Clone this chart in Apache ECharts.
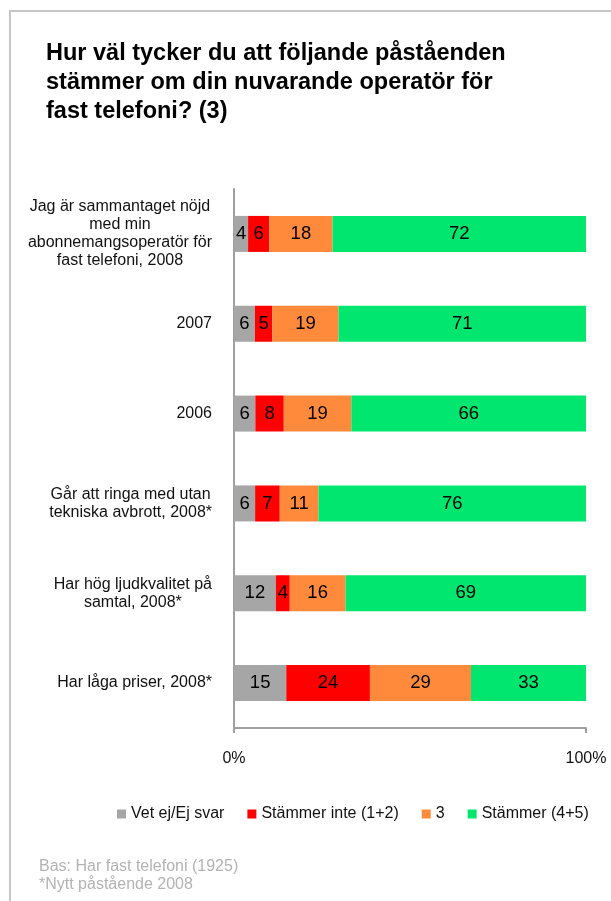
<!DOCTYPE html>
<html>
<head>
<meta charset="utf-8">
<script src="https://cdn.jsdelivr.net/npm/echarts@6/dist/echarts.min.js"></script>
<style>
  html, body { margin: 0; padding: 0; background: #fff; }
  #frame {
    position: absolute; left: 9px; top: 10px; width: 700px; height: 1000px;
    border-left: 2.5px solid #c6c6c6; border-top: 2.5px solid #c6c6c6;
  }
  #chart { position: absolute; left: 0; top: 0; width: 611px; height: 901px; }
</style>
</head>
<body>
<div id="frame"></div>
<div id="chart"></div>
<script>
// Statements (top to bottom)
const categories = [
  'Jag är sammantaget nöjd\nmed min\nabonnemangsoperatör för\nfast telefoni, 2008',
  '2007',
  '2006',
  'Går att ringa med utan\ntekniska avbrott, 2008*',
  'Har hög ljudkvalitet på\nsamtal, 2008*',
  'Har låga priser, 2008*'
];
// Answer shares per statement (%)
const vetEj = [4, 6, 6, 6, 12, 15];
const stammerInte = [6, 5, 8, 7, 4, 24];
const tre = [18, 19, 19, 11, 16, 29];
const stammer = [72, 71, 66, 76, 69, 33];

const seriesNames = ['Vet ej/Ej svar', 'Stämmer inte (1+2)', '3', 'Stämmer (4+5)'];
const seriesColors = ['#a6a6a6', '#ff0000', '#ff8a3c', '#00e66e'];
const xTicks = [0, 100];

const FONT = "'Liberation Sans', Arial, sans-serif";
const raw = [vetEj, stammerInte, tre, stammer];
// each bar is scaled to the total of its row (100% stacked)
const totals = categories.map((_, i) => raw.reduce((s, arr) => s + arr[i], 0));

const series = raw.map((arr, si) => ({
  name: seriesNames[si],
  type: 'bar',
  stack: 'all',
  barWidth: 36,
  itemStyle: { color: seriesColors[si] },
  label: {
    show: true,
    position: 'inside',
    color: '#000',
    fontFamily: FONT,
    fontSize: 18.5,
    formatter: p => String(arr[p.dataIndex])
  },
  emphasis: { disabled: true },
  data: arr.map((v, i) => v / totals[i] * 100)
}));

const chart = echarts.init(document.getElementById('chart'), null, { renderer: 'canvas' });
chart.setOption({
  animation: false,
  textStyle: { fontFamily: FONT },
  title: [
    {
      text: 'Hur väl tycker du att följande påståenden\nstämmer om din nuvarande operatör för\nfast telefoni? (3)',
      left: 46,
      top: 39,
      padding: 0,
      textStyle: { fontFamily: FONT, fontSize: 23.5, fontWeight: 'bold', lineHeight: 29, color: '#000' }
    },
    {
      text: 'Bas: Har fast telefoni (1925)\n*Nytt påstående 2008',
      left: 39,
      top: 858,
      padding: 0,
      textStyle: { fontFamily: FONT, fontSize: 16, fontWeight: 'normal', lineHeight: 18, color: '#b3b3b3' }
    }
  ],
  legend: {
    left: 117,
    top: 806,
    padding: 0,
    itemWidth: 9,
    itemHeight: 9,
    itemGap: 23,
    icon: 'rect',
    selectedMode: false,
    textStyle: { fontFamily: FONT, fontSize: 16, color: '#111' },
    data: seriesNames
  },
  grid: { left: 234, right: 25, top: 189, bottom: 173, containLabel: false },
  xAxis: {
    type: 'value',
    min: xTicks[0],
    max: xTicks[1],
    interval: 100,
    axisLine: { show: true, lineStyle: { color: '#a0a0a0', width: 2 } },
    axisTick: { show: true, length: 5, lineStyle: { color: '#a0a0a0', width: 2 } },
    splitLine: { show: false },
    axisLabel: {
      margin: 23,
      fontFamily: FONT,
      fontSize: 16,
      color: '#111',
      formatter: '{value}%'
    }
  },
  yAxis: {
    type: 'category',
    inverse: true,
    data: categories,
    axisLine: { show: true, lineStyle: { color: '#a0a0a0', width: 2 } },
    axisTick: { show: false },
    axisLabel: {
      margin: 22,
      align: 'right',
      interval: 0,
      formatter: v => v.split('\n').map(l => '{c|' + l + '}').join('\n'),
      rich: {
        c: { align: 'center', fontFamily: FONT, fontSize: 16, lineHeight: 18, color: '#111' }
      }
    }
  },
  series: series
});
</script>
</body>
</html>
